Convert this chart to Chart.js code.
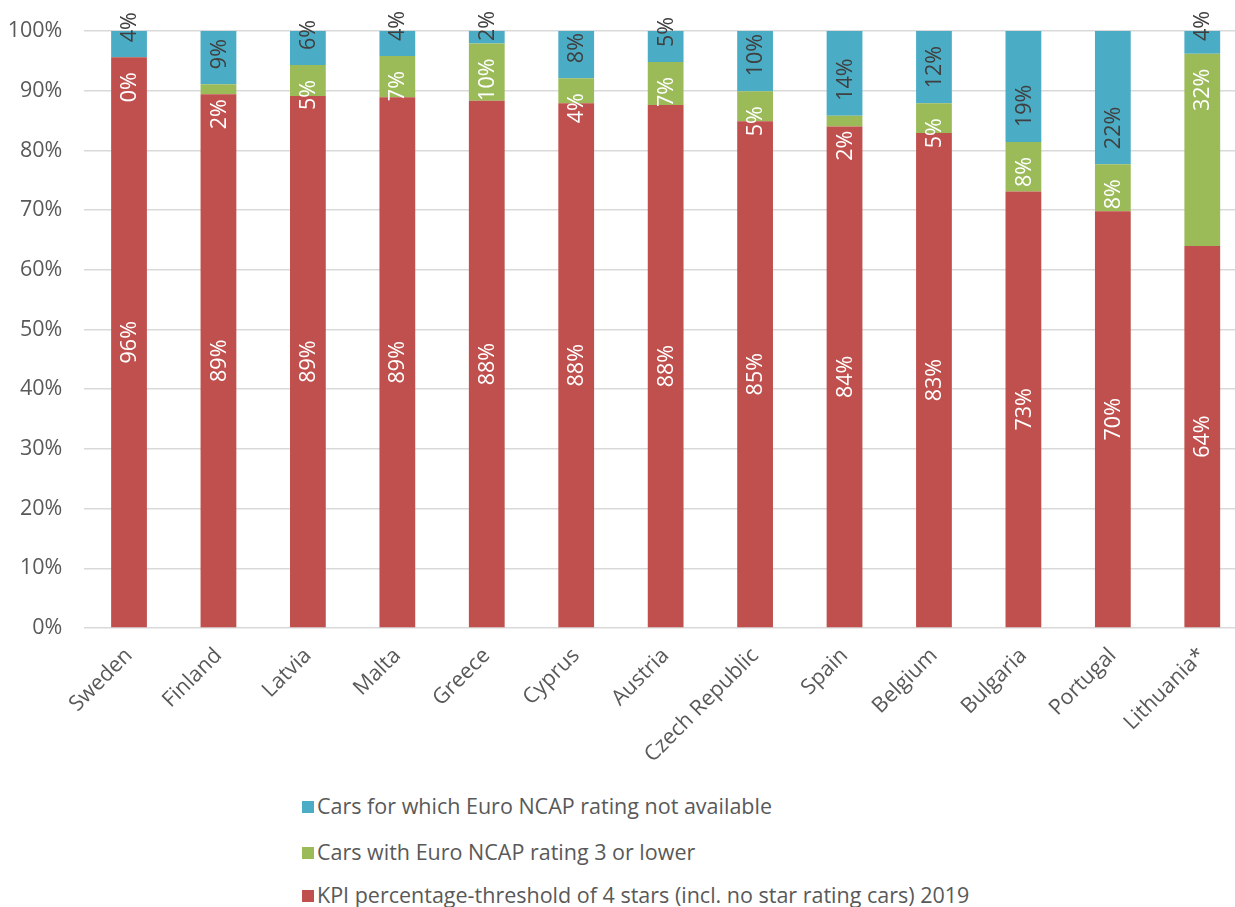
<!DOCTYPE html>
<html>
<head>
<meta charset="utf-8">
<script src="https://cdn.jsdelivr.net/npm/chart.js@4.4.0/dist/chart.umd.min.js"></script>
<style>
  html, body { margin: 0; padding: 0; background: #fff; overflow: hidden; }
  body { width: 1235px; height: 907px; position: relative; font-family: "Open Sans", sans-serif; }
  #wrap { position: absolute; left: 0; top: 0; width: 1250px; height: 785px; }
  .leg { position: absolute; left: 302px; font-size: 21.5px; line-height: 26px; color: #595959; white-space: nowrap; }
  .leg span { display: inline-block; width: 12px; height: 12px; margin-right: 3px; vertical-align: 1px; }
</style>
</head>
<body>
<div id="wrap"><canvas id="myChart"></canvas></div>
<div class="leg" style="top:793px"><span style="background:#4bacc6"></span>Cars for which Euro NCAP rating not available</div>
<div class="leg" style="top:839px"><span style="background:#9bbb59"></span>Cars with Euro NCAP rating 3 or lower</div>
<div class="leg" style="top:882px"><span style="background:#c0504d"></span>KPI percentage-threshold of 4 stars (incl. no star rating cars) 2019</div>
<script>
const countries = ['Sweden', 'Finland', 'Latvia', 'Malta', 'Greece', 'Cyprus', 'Austria',
    'Czech Republic', 'Spain', 'Belgium', 'Bulgaria', 'Portugal', 'Lithuania*'];
const kpi4Stars = [95.6, 89.4, 89.1, 88.9, 88.3, 87.9, 87.6, 84.9, 84.0, 82.9, 73.1, 69.8, 64.0];
const rating3OrLower = [0, 1.7, 5.2, 6.9, 9.6, 4.2, 7.2, 5.0, 1.8, 5.0, 8.3, 7.9, 32.2];
const notAvailable = [4.4, 8.9, 5.7, 4.2, 2.1, 7.9, 5.2, 10.1, 14.2, 12.1, 18.6, 22.3, 3.8];
const yTicks = [0, 10, 20, 30, 40, 50, 60, 70, 80, 90, 100];

Chart.defaults.font.family = "'Open Sans', sans-serif";
Chart.defaults.font.size = 21.5;
Chart.defaults.color = '#595959';

// rotated value labels, reading bottom to top
const barLabels = {
    id: 'barLabels',
    afterDatasetsDraw(chart) {
        const ctx = chart.ctx;
        const areaTop = chart.chartArea.top;
        ctx.save();
        ctx.font = '21.5px "Open Sans"';
        ctx.textBaseline = 'middle';
        ctx.textAlign = 'left';
        chart.data.datasets.forEach((ds, i) => {
            const meta = chart.getDatasetMeta(i);
            meta.data.forEach((bar, j) => {
                const text = Math.round(ds.data[j]) + '%';
                const w = ctx.measureText(text).width;
                const segTop = Math.min(bar.y, bar.base);
                const segBot = Math.max(bar.y, bar.base);
                let y0;
                if (ds.labelAt === 'center') {
                    y0 = (segTop + segBot) / 2 + w / 2;
                } else if (ds.labelAt === 'end') {
                    y0 = segTop + 15 + w;
                } else {
                    y0 = segBot - 15;
                    if (y0 - w < areaTop - 20) y0 = areaTop - 20 + w;
                }
                ctx.save();
                ctx.translate(bar.x + 1, y0);
                ctx.rotate(-Math.PI / 2);
                ctx.fillStyle = ds.labelColor;
                ctx.fillText(text, 0, 0);
                ctx.restore();
            });
        });
        ctx.restore();
    }
};

const ctx = document.getElementById('myChart');
new Chart(ctx, {
    type: 'bar',
    data: {
        labels: countries,
        datasets: [{
                label: 'KPI percentage-threshold of 4 stars (incl. no star rating cars) 2019',
                data: kpi4Stars,
                backgroundColor: '#c0504d',
                labelAt: 'center',
                labelColor: '#ffffff'
            }, {
                label: 'Cars with Euro NCAP rating 3 or lower',
                data: rating3OrLower,
                backgroundColor: '#9bbb59',
                labelAt: 'end',
                labelColor: '#ffffff'
            }, {
                label: 'Cars for which Euro NCAP rating not available',
                data: notAvailable,
                backgroundColor: '#4bacc6',
                labelAt: 'base',
                labelColor: '#404040'
            }]
    },
    options: {
        responsive: true,
        maintainAspectRatio: false,
        animation: false,
        barPercentage: 0.4,
        categoryPercentage: 1,
        layout: {
            padding: {top: 31, right: 3, left: 0, bottom: 0}
        },
        plugins: {
            legend: {display: false},
            tooltip: {enabled: false}
        },
        scales: {
            x: {
                stacked: true,
                grid: {display: false},
                border: {display: false},
                ticks: {
                    minRotation: 45,
                    maxRotation: 45,
                    padding: 7,
                    autoSkip: false,
                    color: '#595959'
                },
                afterFit(scale) {
                    scale.height = 157;
                    scale.paddingLeft = 0;
                    scale.paddingRight = 0;
                }
            },
            y: {
                stacked: true,
                min: 0,
                max: 100,
                afterBuildTicks(scale) {
                    scale.ticks = yTicks.map(v => ({value: v}));
                },
                ticks: {
                    padding: 22,
                    color: '#595959',
                    callback: v => v + '%'
                },
                grid: {
                    color: '#d9d9d9',
                    lineWidth: 1.5,
                    drawTicks: false
                },
                border: {display: false},
                afterFit(scale) {
                    scale.width = 84.3;
                    scale.paddingTop = 0;
                    scale.paddingBottom = 0;
                }
            }
        }
    },
    plugins: [barLabels]
});
</script>
</body>
</html>
